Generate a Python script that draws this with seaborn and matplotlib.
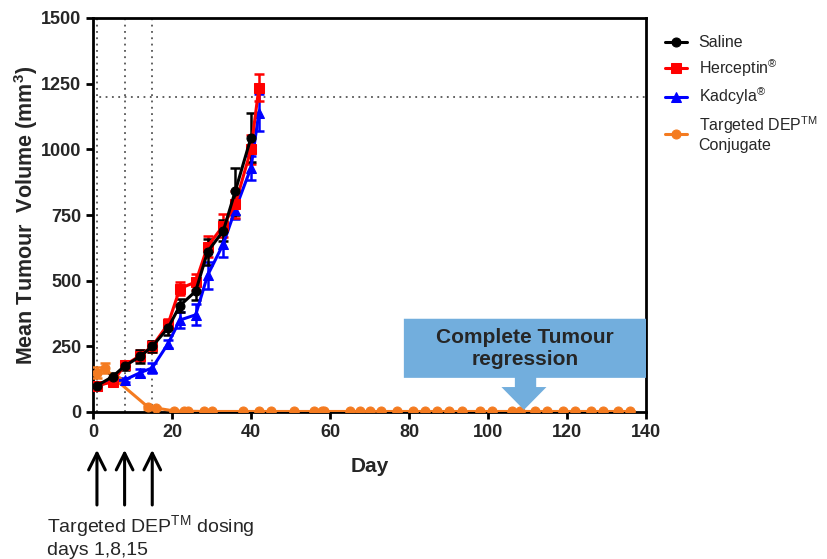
import matplotlib
matplotlib.use("Agg")
import matplotlib.pyplot as plt
import seaborn as sns
from matplotlib.patches import Polygon

# ---- data ----
saline_days = [1, 5, 8, 12, 15, 19, 22, 26, 29, 33, 36, 40]
saline_vol = [100, 135, 175, 212, 250, 320, 405, 460, 610, 690, 840, 1045]
saline_err = [10, 12, 15, 25, 20, 25, 25, 35, 50, 40, 90, 95]

herceptin_days = [1, 5, 8, 12, 15, 19, 22, 26, 29, 33, 36, 40, 42]
herceptin_vol = [100, 115, 178, 215, 250, 335, 470, 495, 630, 710, 790, 1000, 1235]
herceptin_err = [10, 10, 15, 20, 20, 20, 25, 30, 40, 45, 50, 55, 50]

kadcyla_days = [1, 5, 8, 12, 15, 19, 22, 26, 29, 33, 36, 40, 42]
kadcyla_vol = [100, 118, 122, 150, 168, 260, 350, 370, 520, 640, 770, 930, 1140]
kadcyla_err = [8, 10, 8, 15, 20, 15, 30, 40, 50, 50, 35, 45, 70]

dep_days = [1, 3, 6, 14, 16, 20.5, 23, 24, 28, 30, 38, 42, 45, 51, 56, 58, 58.5,
            65, 67.5, 70, 73, 77, 81, 84, 87, 90, 93.5, 98, 101, 106, 108,
            112, 115, 119, 122, 126, 129, 133, 136]
dep_vol = [150, 168, 120, 18, 15, 4, 3, 3, 2, 2, 2, 2, 2, 2, 2, 2, 2,
           2, 2, 2, 2, 2, 2, 2, 2, 2, 2, 2, 2, 2, 2,
           2, 2, 2, 2, 2, 2, 2, 2]
dep_err = [20, 18, 10, 6, 4] + [0] * 34

dosing_days = [1, 8, 15]
x_ticks = [0, 20, 40, 60, 80, 100, 120, 140]
y_ticks = [0, 250, 500, 750, 1000, 1250, 1500]

sns.set_theme(style="ticks")
plt.rcParams["font.family"] = ["Liberation Sans", "DejaVu Sans"]
plt.rcParams["mathtext.fontset"] = "custom"
plt.rcParams["mathtext.rm"] = "Liberation Sans"
plt.rcParams["mathtext.it"] = "Liberation Sans:italic"
plt.rcParams["mathtext.bf"] = "Liberation Sans:bold"

fig = plt.figure(figsize=(8.27, 5.59), dpi=100)
ax = fig.add_axes([93 / 827, 1 - 412 / 559, 553 / 827, 394 / 559])

series = [
    ("Targeted DEP$^{\\mathrm{TM}}$\nConjugate", dep_days, dep_vol, dep_err, "#F47B20", "o"),
    ("Kadcyla$^{\\mathrm{®}}$", kadcyla_days, kadcyla_vol, kadcyla_err, "#0000FF", "^"),
    ("Herceptin$^{\\mathrm{®}}$", herceptin_days, herceptin_vol, herceptin_err, "#FF0000", "s"),
    ("Saline", saline_days, saline_vol, saline_err, "black", "o"),
]

for lab, d, v, e, col, mk in series:
    ax.errorbar(d, v, yerr=e, fmt="none", ecolor=col, elinewidth=1.8,
                capsize=3.5, capthick=1.8, zorder=3)
    sns.lineplot(x=d, y=v, ax=ax, color=col, marker=mk, markersize=6.5,
                 markeredgecolor=col, linewidth=2.2, label=lab, zorder=4)

# dotted reference lines
for d in dosing_days:
    ax.axvline(d, color="#555555", linestyle=(0, (1, 2.5)), linewidth=1.3, zorder=1)
ax.axhline(1200, color="#555555", linestyle=(0, (1, 2.5)), linewidth=1.3, zorder=1)

ax.set_xlim(0, 140)
ax.set_ylim(0, 1500)
ax.set_xticks(x_ticks)
ax.set_yticks(y_ticks)
for lbl in ax.get_xticklabels() + ax.get_yticklabels():
    lbl.set_fontweight("bold")
    lbl.set_fontsize(13)
ax.tick_params(width=2, length=5, color="black")
for s in ax.spines.values():
    s.set_linewidth(2)
    s.set_color("black")

ax.set_xlabel("Day", fontsize=15, fontweight="bold")
ax.set_ylabel("Mean Tumour  Volume (mm$^\\mathbf{3}$)", fontsize=15.5, fontweight="bold")
ax.xaxis.set_label_coords(0.5, -0.115)
ax.yaxis.set_label_coords(-0.095, 0.5)

# legend in reference order
handles, labels = ax.get_legend_handles_labels()
order = [3, 2, 1, 0]
ax.legend([handles[i] for i in order], [labels[i] for i in order],
          loc="upper left", bbox_to_anchor=(1.023, 0.972), borderaxespad=0,
          frameon=False, fontsize=11.5, handlelength=1.4, handletextpad=0.7,
          labelspacing=0.42)

# callout "Complete Tumour regression"
callout = Polygon([(78.7, 355), (140, 355), (140, 130), (112.2, 130), (112.2, 95),
                   (114.8, 95), (109.1, 8), (103.4, 95), (106.8, 95), (106.8, 130),
                   (78.7, 130)], closed=True, facecolor="#72AEDD", edgecolor="none",
                  zorder=6, clip_on=False)
ax.add_patch(callout)
ax.text(109.3, 242, "Complete Tumour\nregression", ha="center", va="center",
        fontsize=15, fontweight="bold", color="#262626", zorder=7,
        linespacing=1.15)

# dosing arrows under the axis
for d in dosing_days:
    ax.annotate("", xy=(d, -0.096), xytext=(d, -0.236),
                xycoords=ax.get_xaxis_transform(), textcoords=ax.get_xaxis_transform(),
                arrowprops=dict(arrowstyle="->,head_length=1.0,head_width=0.5",
                                lw=2.2, color="black", shrinkA=0, shrinkB=0),
                annotation_clip=False)
fig.text(47 / 827, 1 - 536 / 559, "Targeted DEP$^{\\mathrm{TM}}$ dosing\ndays 1,8,15",
         fontsize=14, ha="left", va="center", linespacing=1.2)

fig.savefig("out.png", dpi=100)
